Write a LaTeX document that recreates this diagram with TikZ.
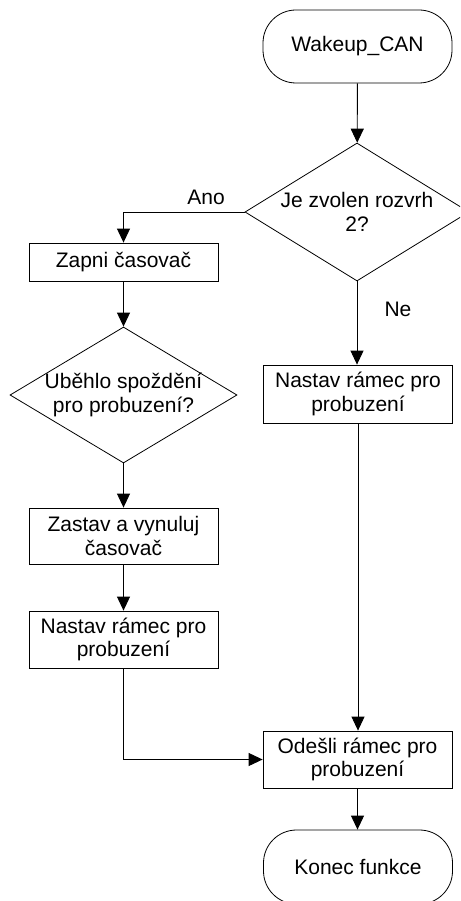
\documentclass[tikz,border=0pt]{standalone}
\usepackage{fontspec}
\setmainfont{Liberation Sans}
\usetikzlibrary{shapes.geometric,arrows.meta}

\tikzset{
  base/.style={draw=black, line width=0.8pt, align=center,
    font=\fontsize{21}{23.5}\selectfont, inner sep=0pt},
  terminal/.style={base, rectangle, rounded corners=33pt,
    minimum width=189pt, minimum height=73pt},
  process/.style={base, rectangle, minimum width=189pt},
  decision/.style={base, diamond},
  flow/.style={draw=black, line width=0.9pt,
    -{Triangle[length=14pt,width=13pt]}},
  plain/.style={draw=black, line width=0.9pt},
  tag/.style={font=\fontsize{21}{23.5}\selectfont, inner sep=0pt}
}

\begin{document}
\begin{tikzpicture}[x=1pt,y=-1pt]
  \useasboundingbox (0,0) rectangle (460,901);
  \clip (0,0) rectangle (460,901);

  % right column
  \node[terminal] (start) at (357.5,46.5) {Wakeup\_CAN};
  \node[decision, minimum width=224pt, minimum height=138pt,
        label={[tag, align=center]center:Je zvolen rozvrh\\2?}]
        (q1) at (357,212) {};
  \node[process, minimum height=58pt] (nastavR) at (358,394)
        {Nastav rámec pro\\probuzení};
  \node[process, minimum height=57pt] (odesli) at (357.5,759.5)
        {Odešli rámec pro\\probuzení};
  \node[terminal, minimum height=74pt] (konec) at (358,867) {Konec funkce};

  % left column
  \node[process, minimum height=38pt] (zapni) at (123.5,262) {Zapni časovač};
  \node[decision, minimum width=227pt, minimum height=136pt,
        label={[tag, align=center]center:Uběhlo spoždění\\pro probuzení?}]
        (q2) at (123.5,395) {};
  \node[process, minimum height=56pt] (zastav) at (123.5,536)
        {Zastav a vynuluj\\časovač};
  \node[process, minimum height=57pt] (nastavL) at (123.5,639.5)
        {Nastav rámec pro\\probuzení};

  % branch labels
  \node[tag] (ano) at (206,197) {Ano};
  \node[tag] (ne) at (398,309) {Ne};

  % connectors
  \draw[flow] (start) -- (q1);
  \draw[flow] (q1.west) -| (zapni.north);
  \draw[flow] (q1.south) -- (q1.south |- nastavR.north);
  \draw[flow] (nastavR) -- (nastavR.south |- odesli.north);
  \draw[flow] (zapni) -- (q2);
  \draw[flow] (q2) -- (zastav);
  \draw[flow] (zastav) -- (nastavL);
  \draw[flow] (nastavL.south) |- (odesli.west);
  \draw[flow] (odesli) -- (odesli.south |- konec.north);
\end{tikzpicture}
\end{document}
